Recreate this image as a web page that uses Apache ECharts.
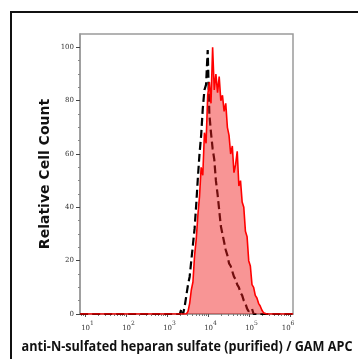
<!DOCTYPE html>
<html><head><meta charset="utf-8">
<script src="https://cdn.jsdelivr.net/npm/echarts@6/dist/echarts.min.js"></script>
<style>html,body{margin:0;padding:0;background:#fff}#c{width:358px;height:359px}</style>
</head><body><div id="c"></div>
<script>
// x positions in log10 units of fluorescence intensity
const binsLog = [0.87,
  3.30,3.34,3.38,3.42,3.46,3.50,3.54,3.58,3.62,3.66,
  3.70,3.74,3.78,3.82,3.86,3.90,3.94,3.98,4.02,4.06,
  4.10,4.14,4.18,4.22,4.26,4.30,4.34,4.38,4.42,4.46,
  4.50,4.54,4.58,4.62,4.66,4.70,4.74,4.78,4.82,4.86,
  4.90,4.94,4.98,5.02,5.06,5.10,5.14,5.18,5.22,5.26,
  5.30,5.34,5.38,5.42,5.46,5.50,
  6.06];
// sample (red, filled)
const redCounts = [0,
  0,0,0,0,0,1,4,9,12,22,
  28,37,44,55,52,68,64,82,87,79,
  100,84,90,83,89,80,82,76,79,70,
  67,60,63,53,56,61,48,50,42,40,
  31,29,20,18,11,10,7,6,4,3,
  1.5,0.5,0,0,0,0,
  0];
// control (black, dashed)
const blackCounts = [0,
  0,2,0,3,7,11,14,20,26,32,
  41,51,60,67,77,84,86,99,75,68,
  62,58,50,45,39,33,30,27,24,22,
  19,18,16,14,13,11,10,8,7,5,
  4,2,1,0.5,2,0,0,0,0,0,
  0,0,0,0,0,0,
  0];
const xExponents = [1,2,3,4,5,6];
const yTicks = [0,20,40,60,80,100];
const xTitle = 'anti-N-sulfated heparan sulfate (purified) / GAM APC';
const yTitle = 'Relative Cell Count';

const X_MIN = 0.866, X_MAX = 6.06;
const minorLog = [];
for (let d = 0; d < 7; d++) for (let k = 2; k < 10; k++) {
  const v = d + Math.log10(k);
  if (v > X_MIN && v < X_MAX) minorLog.push(v);
}

const redData = binsLog.map((x, i) => [x, redCounts[i]]);
const blackData = binsLog.map((x, i) => [x, blackCounts[i]]);

// fit the x title to the width it spans in the reference
const titleFont = 'bold 15px "Open Sans"';
const ctx = document.createElement('canvas').getContext('2d');
ctx.font = titleFont;
const tw = ctx.measureText(xTitle).width;
const titleScale = Math.min(1, 331 / tw);

const chart = echarts.init(document.getElementById('c'));
chart.setOption({
  animation: false,
  backgroundColor: '#fff',
  grid: {left: 80, right: 65, top: 34, bottom: 45, show: true, borderColor: '#9a9a9a', borderWidth: 1.5},
  xAxis: [{
    type: 'value', min: X_MIN, max: X_MAX,
    axisLine: {show: true, onZero: false, lineStyle: {color: '#9a9a9a', width: 1.5}},
    axisTick: {show: true, customValues: xExponents, length: 3, lineStyle: {color: '#555'}},
    splitLine: {show: false},
    axisLabel: {
      customValues: xExponents, margin: 6,
      formatter: v => '{p|}{b|10}{s|' + Math.round(v) + '}' + (Math.round(v) === 6 ? '{q|}' : ''),
      rich: {
        p: {width: 4},
        q: {width: 9},
        b: {fontFamily: 'DejaVu Serif', fontSize: 7, color: '#333', lineHeight: 12, verticalAlign: 'bottom'},
        s: {fontFamily: 'DejaVu Serif', fontSize: 6, color: '#333', lineHeight: 12, verticalAlign: 'top'}
      }
    }
  }, {
    type: 'value', min: X_MIN, max: X_MAX, position: 'bottom',
    axisLine: {show: false},
    axisTick: {show: true, customValues: minorLog, length: 2, lineStyle: {color: '#777'}},
    axisLabel: {show: false}, splitLine: {show: false}
  }],
  yAxis: {
    type: 'value', min: 0, max: 105,
    axisLine: {show: true, lineStyle: {color: '#9a9a9a', width: 1.5}},
    axisTick: {show: true, customValues: yTicks, length: 4, lineStyle: {color: '#444', width: 1}},
    minorTick: {show: true, splitNumber: 4, length: 2, lineStyle: {color: '#888'}},
    splitLine: {show: false},
    axisLabel: {customValues: yTicks, margin: 6, fontFamily: 'DejaVu Serif', fontSize: 7, color: '#333'}
  },
  series: [{
    type: 'line', name: 'control', data: blackData, showSymbol: false, symbol: 'none',
    lineStyle: {color: '#000', width: 2.2, type: [8, 4]}, z: 2
  }, {
    type: 'line', name: 'sample', data: redData, showSymbol: false, symbol: 'none',
    lineStyle: {color: '#f00', width: 1.6},
    areaStyle: {color: 'rgba(240,30,30,0.47)', opacity: 1}, z: 3
  }],
  graphic: [
    {type: 'rect', shape: {x: 11, y: 12, width: 400, height: 400}, style: {fill: 'none', stroke: '#111', lineWidth: 2}, z: 10},
    {type: 'text', x: 45, y: 174, rotation: Math.PI / 2,
     style: {text: yTitle, font: 'bold 14px "DejaVu Sans"', fill: '#111', textAlign: 'center', textVerticalAlign: 'middle'}},
    {type: 'text', x: 187, y: 347, scaleX: titleScale,
     style: {text: xTitle, font: titleFont, fill: '#111', textAlign: 'center', textVerticalAlign: 'middle'}}
  ]
});
</script></body></html>
